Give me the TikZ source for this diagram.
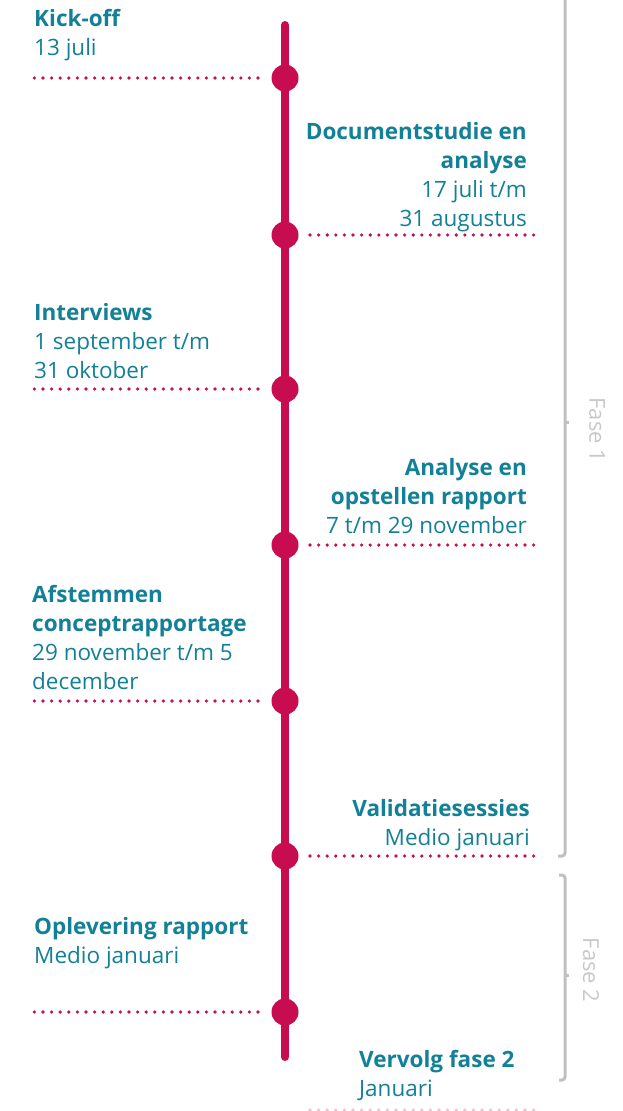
\documentclass[tikz,border=0pt]{standalone}
\usepackage{fontspec}
\setmainfont{Open Sans}
\definecolor{teal}{RGB}{18,128,150}
\definecolor{mag}{RGB}{200,12,80}
\definecolor{brk}{RGB}{192,192,192}
\definecolor{fasegray}{RGB}{200,200,200}
\tikzset{
  lbl/.style={inner sep=0pt, text=teal, font=\fontsize{22.5}{29}\selectfont},
  lblL/.style={lbl, anchor=north west, align=left},
  lblR/.style={lbl, anchor=north east, align=right},
  mdot/.style={circle, fill=mag, minimum size=27pt, inner sep=0pt},
  dots/.style={mag, line width=3.6pt, line cap=round, dash pattern=on 0pt off 8.6pt},
  bracket/.style={brk, line width=3pt, rounded corners=3pt},
  fase/.style={text=fasegray, font=\fontsize{22}{24}\selectfont, rotate=-90, inner sep=0pt}
}
\begin{document}
\begin{tikzpicture}[x=1pt,y=-1pt]
\useasboundingbox (0,0) rectangle (623,1111);
% timeline
\coordinate (top) at (285,25);
\coordinate (bot) at (285,1057);
\draw[mag, line width=8pt, line cap=round] (top) -- (bot);
\node[mdot] (d1) at (285,78) {};
\node[mdot] (d2) at (285,235) {};
\node[mdot] (d3) at (285,389) {};
\node[mdot] (d4) at (285,545) {};
\node[mdot] (d5) at (285,701) {};
\node[mdot] (d6) at (285,856) {};
\node[mdot] (d7) at (285,1012) {};
% dotted guides
\coordinate (l1) at (33,78);
\coordinate (r2) at (535,235);
\coordinate (l3) at (33,389);
\coordinate (r4) at (535,545);
\coordinate (l5) at (33,701);
\coordinate (r6) at (535,856);
\coordinate (l7) at (33,1012);
\coordinate (b1) at (310,1110);
\coordinate (b2) at (535,1110);
\draw[dots] (258,78) -- (l1);
\draw[dots] (310,235) -- (r2);
\draw[dots] (258,389) -- (l3);
\draw[dots] (310,545) -- (r4);
\draw[dots] (258,701) -- (l5);
\draw[dots] (310,856) -- (r6);
\draw[dots] (258,1012) -- (l7);
\draw[dots, mag!25] (b1) -- (b2);
% labels
\node[lblL] (t1) at (34,9) {\textbf{Kick-off}\\13 juli};
\node[lblR] (t2) at (527,122) {\textbf{Documentstudie en}\\\textbf{analyse}\\17 juli t/m\\31 augustus};
\node[lblL] (t3) at (34,303) {\textbf{Interviews}\\1 september t/m\\31 oktober};
\node[lblR] (t4) at (527,458) {\textbf{Analyse en}\\\textbf{opstellen rapport}\\7 t/m 29 november};
\node[lblL] (t5) at (32,585) {\textbf{Afstemmen}\\\textbf{conceptrapportage}\\29 november t/m 5\\december};
\node[lblR] (t6) at (530,799) {\textbf{Validatiesessies}\\Medio januari};
\node[lblL] (t7) at (34,917) {\textbf{Oplevering rapport}\\Medio januari};
\node[lblL] (t8) at (359,1050) {\textbf{Vervolg fase 2}\\Januari};
% phase brackets
\coordinate (f1a) at (565,-5);
\coordinate (f1b) at (558,856);
\draw[bracket] (f1a) -- (565,856) -- (f1b);
\draw[brk, line width=3pt] (565,422) -- (569,422);
\node[fase] (f1) at (597,430) {Fase 1};
\coordinate (f2a) at (559,875);
\coordinate (f2b) at (559,1080);
\draw[bracket] (f2a) -- (565,875) -- (565,1080) -- (f2b);
\draw[brk, line width=3pt] (565,975) -- (569,975);
\node[fase] (f2) at (591,970) {Fase 2};
\end{tikzpicture}
\end{document}
